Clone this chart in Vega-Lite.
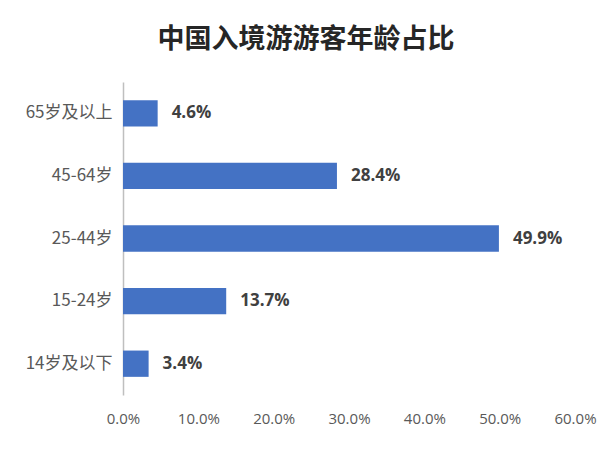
{
  "$schema": "https://vega.github.io/schema/vega-lite/v6.json",
  "autosize": "none",
  "width": 452,
  "height": 313,
  "padding": {"left": 123, "top": 82, "right": 37, "bottom": 55},
  "background": "white",
  "title": {
    "text": "中国入境游游客年龄占比",
    "font": "Noto Sans CJK SC",
    "fontSize": 27,
    "fontWeight": "bold",
    "color": "#262626",
    "anchor": "middle",
    "dx": -43,
    "offset": 28
  },
  "config": {"view": {"stroke": null}},
  "data": {
    "values": [
      {"age": "65岁及以上", "pct": 4.6, "label": "4.6%"},
      {"age": "45-64岁", "pct": 28.4, "label": "28.4%"},
      {"age": "25-44岁", "pct": 49.9, "label": "49.9%"},
      {"age": "15-24岁", "pct": 13.7, "label": "13.7%"},
      {"age": "14岁及以下", "pct": 3.4, "label": "3.4%"}
    ]
  },
  "encoding": {
    "y": {
      "field": "age",
      "type": "nominal",
      "sort": ["65岁及以上", "45-64岁", "25-44岁", "15-24岁", "14岁及以下"],
      "scale": {"paddingInner": 0.58, "paddingOuter": 0.29},
      "axis": {
        "title": null,
        "ticks": false,
        "domainColor": "#bfbfbf",
        "domainWidth": 1.5,
        "labelFont": "Noto Sans CJK SC",
        "labelFontSize": 17,
        "labelColor": "#595959",
        "labelPadding": 11
      }
    },
    "x": {
      "field": "pct",
      "type": "quantitative",
      "scale": {"domain": [0, 60]},
      "axis": {
        "title": null,
        "values": [0, 10, 20, 30, 40, 50, 60],
        "labelExpr": "format(datum.value, '.1f') + '%'",
        "labelFlush": false,
        "domain": false,
        "ticks": false,
        "grid": false,
        "labelFont": "Open Sans",
        "labelFontSize": 15,
        "labelColor": "#595959",
        "labelPadding": 16
      }
    }
  },
  "layer": [
    {"mark": {"type": "bar", "color": "#4472c4"}},
    {
      "mark": {
        "type": "text",
        "align": "left",
        "dx": 14,
        "font": "Open Sans",
        "fontSize": 17,
        "fontWeight": "bold",
        "color": "#404040"
      },
      "encoding": {
        "text": {"field": "label", "type": "nominal"}
      }
    }
  ]
}
